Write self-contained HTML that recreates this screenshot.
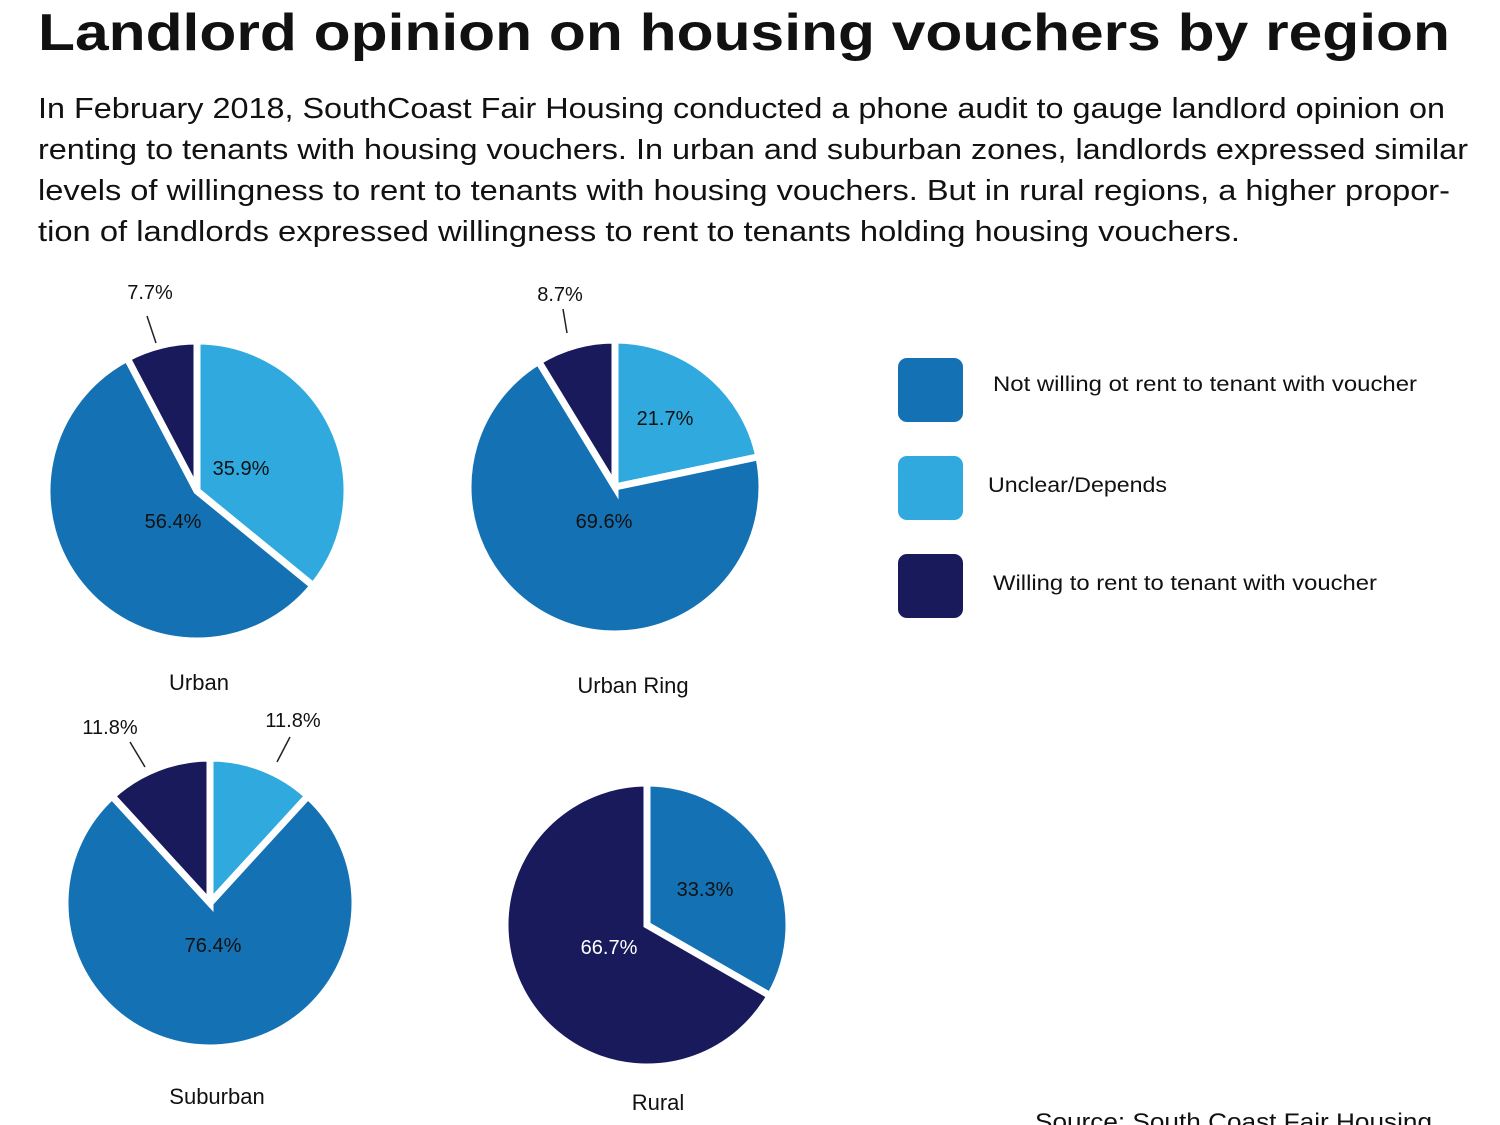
<!DOCTYPE html>
<html><head><meta charset="utf-8"><style>
html,body{margin:0;padding:0;background:#fff;}
svg{display:block;}
text{font-family:"Liberation Sans",sans-serif;fill:#111;}
</style></head><body>
<svg width="1500" height="1125" viewBox="0 0 1500 1125" xmlns="http://www.w3.org/2000/svg">
<text x="38" y="50" font-size="52" font-weight="bold" textLength="1412" lengthAdjust="spacingAndGlyphs">Landlord opinion on housing vouchers by region</text>
<g font-size="29">
<text x="38" y="118" textLength="1407" lengthAdjust="spacingAndGlyphs">In February 2018, SouthCoast Fair Housing conducted a phone audit to gauge landlord opinion on</text>
<text x="38" y="159" textLength="1430" lengthAdjust="spacingAndGlyphs">renting to tenants with housing vouchers. In urban and suburban zones, landlords expressed similar</text>
<text x="38" y="200" textLength="1412" lengthAdjust="spacingAndGlyphs">levels of willingness to rent to tenants with housing vouchers. But in rural regions, a higher propor-</text>
<text x="38" y="241" textLength="1202" lengthAdjust="spacingAndGlyphs">tion of landlords expressed willingness to rent to tenants holding housing vouchers.</text>
</g>
<g id="pies" stroke="#fff" stroke-width="7" stroke-linejoin="miter"></g>
<g stroke="#222" stroke-width="1.5">
<line x1="147" y1="316" x2="156" y2="343"/>
<line x1="563" y1="309" x2="567" y2="333"/>
<line x1="130" y1="742" x2="145" y2="767"/>
<line x1="290" y1="737" x2="277" y2="762"/>
</g>
<g font-size="20" text-anchor="middle">
<text x="150" y="299">7.7%</text>
<text x="560" y="301">8.7%</text>
<text x="110" y="734">11.8%</text>
<text x="293" y="727">11.8%</text>
<text x="241" y="475">35.9%</text>
<text x="173" y="528">56.4%</text>
<text x="665" y="425">21.7%</text>
<text x="604" y="528">69.6%</text>
<text x="213" y="952">76.4%</text>
<text x="705" y="896">33.3%</text>
<text x="609" y="954" style="fill:#fff">66.7%</text>
<text x="199" y="690" font-size="22">Urban</text>
<text x="633" y="693" font-size="22">Urban Ring</text>
<text x="217" y="1104" font-size="22">Suburban</text>
<text x="658" y="1110" font-size="22">Rural</text>
</g>
<rect x="898" y="358" width="65" height="64" rx="9" fill="#1472b4"/>
<rect x="898" y="456" width="65" height="64" rx="9" fill="#30a9de"/>
<rect x="898" y="554" width="65" height="64" rx="9" fill="#191a5c"/>
<g font-size="21">
<text x="993" y="391" textLength="424" lengthAdjust="spacingAndGlyphs">Not willing ot rent to tenant with voucher</text>
<text x="988" y="492" textLength="179" lengthAdjust="spacingAndGlyphs">Unclear/Depends</text>
<text x="993" y="590" textLength="384" lengthAdjust="spacingAndGlyphs">Willing to rent to tenant with voucher</text>
</g>
<text x="1035" y="1130" font-size="24" textLength="397" lengthAdjust="spacingAndGlyphs">Source: South Coast Fair Housing</text>
</svg>
<script>
const C={mid:"#1472b4",light:"#30a9de",dark:"#191a5c"};
const pies=[
 {cx:197,cy:491,r:150,s:[[35.9,"light"],[56.4,"mid"],[7.7,"dark"]]},
 {cx:615,cy:487,r:147,s:[[21.7,"light"],[69.6,"mid"],[8.7,"dark"]]},
 {cx:210,cy:903,r:145,s:[[11.8,"light"],[76.4,"mid"],[11.8,"dark"]]},
 {cx:647,cy:925,r:142,s:[[33.3,"mid"],[66.7,"dark"]]}
];
const g=document.getElementById("pies");let h="";
for(const p of pies){let a=0;
 for(const [v,c] of p.s){const b=a+v/100*2*Math.PI;
  const x1=p.cx+p.r*Math.sin(a),y1=p.cy-p.r*Math.cos(a),x2=p.cx+p.r*Math.sin(b),y2=p.cy-p.r*Math.cos(b);
  const lg=(b-a)>Math.PI?1:0;
  h+=`<path d="M${p.cx},${p.cy}L${x1},${y1}A${p.r},${p.r} 0 ${lg} 1 ${x2},${y2}Z" fill="${C[c]}"/>`;a=b;}
}
g.innerHTML=h;
</script>
</body></html>
